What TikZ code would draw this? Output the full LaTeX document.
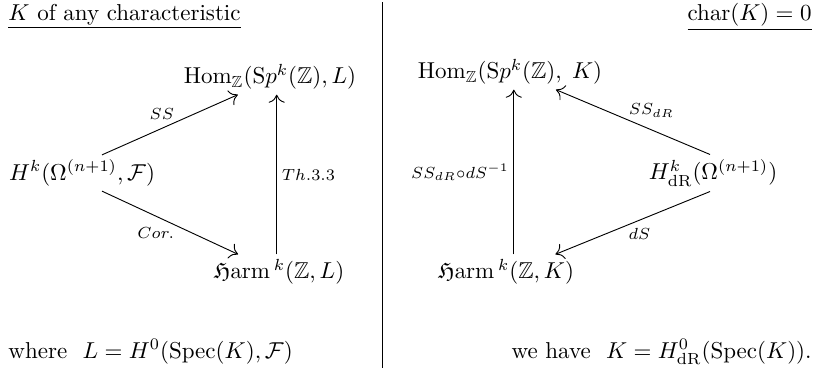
\documentclass[tikz,border=0pt]{standalone}
\usepackage{amsmath,amssymb}
\usepackage{tikz}
\usetikzlibrary{arrows.meta,positioning,calc}
\tikzset{
  obj/.style={inner sep=2pt},
  capt/.style={inner sep=0pt},
  lab/.style={font=\scriptsize, inner sep=2pt},
  arr/.style={-{Computer Modern Rightarrow[length=3.5pt,width=7pt]}, line width=0.4pt},
  sep/.style={line width=0.4pt}
}

\begin{document}
\begin{tikzpicture}[x=0.435pt, y=-0.435pt]
\useasboundingbox (0,0) rectangle (815,370);

% left half: K of any characteristic
\node[capt, anchor=base west] (ttlL) at (8,20) {\underline{$K$ of any characteristic}};
\node[obj] (homL) at (270,77) {$\operatorname{Hom}_{\mathbb{Z}}(\mathrm{S}p^k(\mathbb{Z}),L)$};
\node[obj] (hL) at (82,173) {$H^k(\Omega^{(n+1)},\mathcal{F})$};
\node[obj] (harmL) at (279,272) {$\mathfrak{H}\mathrm{arm}\,{}^k(\mathbb{Z},L)$};
\node[capt, anchor=base west] (noteL) at (8,358) {where\ \ $L=H^0(\mathrm{Spec}(K),\mathcal{F})$};

\draw[arr] ([xshift=8.7pt]hL.north) -- node[lab, above left=0pt and -4pt]{$SS$} ([xshift=-14pt]homL.south);
\draw[arr] ([xshift=8.7pt]hL.south) -- node[lab, below left=0pt and -4pt]{$Cor.$} ([xshift=-17.8pt]harmL.north);
\draw[arr] ([xshift=-1pt]harmL.north) -- node[lab, right]{$Th.3.3$} ([xshift=-1pt]harmL.north |- homL.south);

% divider
\coordinate (divtop) at (382,2);
\coordinate (divbot) at (382,368);
\draw[sep] (divtop) -- (divbot);

% right half: char(K)=0
\node[capt, anchor=base east] (ttlR) at (812,20) {\underline{$\mathrm{char}(K)=0$}};
\node[obj] (homR) at (510,72) {$\operatorname{Hom}_{\mathbb{Z}}(\mathrm{S}p^k(\mathbb{Z}),\;K)$};
\node[obj] (hR) at (713,173) {$H^k_{\mathrm{dR}}(\Omega^{(n+1)})$};
\node[obj] (harmR) at (506,272) {$\mathfrak{H}\mathrm{arm}\,{}^k(\mathbb{Z},K)$};
\node[capt, anchor=base east] (noteR) at (812,358) {we have\ \ $K=H^0_{\mathrm{dR}}(\mathrm{Spec}(K))$.};

\draw[arr] ([xshift=-1.3pt]hR.north) -- node[lab, above right=0pt and -4pt]{$SS_{dR}$} ([xshift=20pt]homR.south);
\draw[arr] ([xshift=-1.3pt]hR.south) -- node[lab, below right=0pt and -4pt]{$dS$} ([xshift=21.5pt]harmR.north);
\draw[arr] ([xshift=3.4pt]harmR.north) -- node[lab, left]{$SS_{dR}{\circ}dS^{-1}$} ([xshift=3.4pt]harmR.north |- homR.south);
\end{tikzpicture}
\end{document}
